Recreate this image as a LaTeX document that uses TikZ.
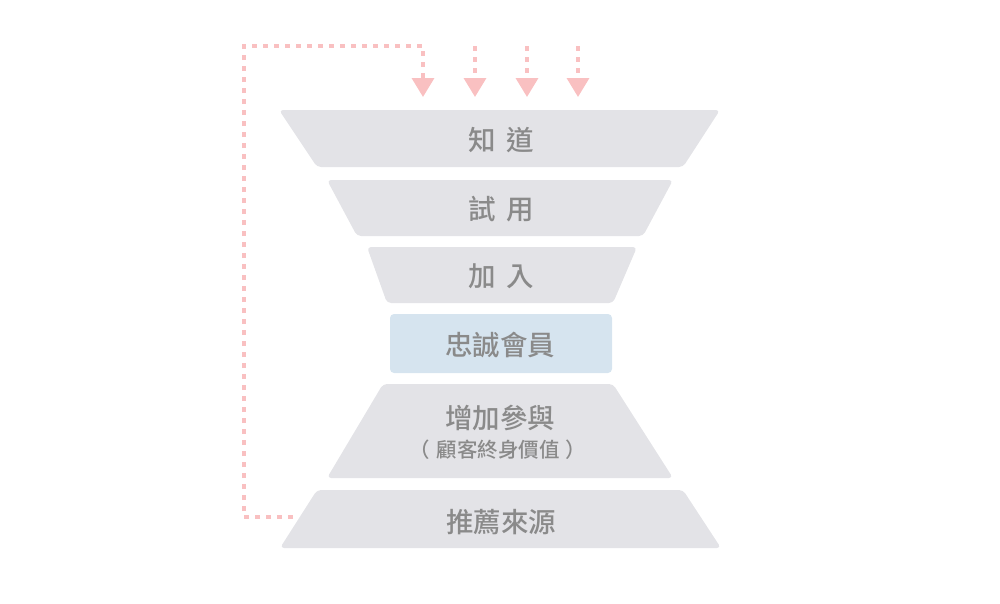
\documentclass[tikz,border=0pt]{standalone}
\usepackage{fontspec}
\newfontfamily\cjk{Noto Sans CJK TC Medium}
\usetikzlibrary{arrows.meta}
\definecolor{band}{HTML}{E3E3E7}
\definecolor{loyal}{HTML}{D6E4EF}
\definecolor{txt}{HTML}{8A8A8A}
\definecolor{pinkline}{HTML}{F9C0C1}
\tikzset{
  bandshape/.style={fill=band, rounded corners=4pt},
  label/.style={text=txt, font=\cjk\fontsize{27.5}{30}\selectfont, inner sep=0pt},
  sublabel/.style={text=txt, font=\cjk\fontsize{20.5}{23}\selectfont, inner sep=0pt},
  flow/.style={draw=pinkline, line width=3.5pt, dash pattern=on 5pt off 6pt},
  tipline/.style={flow, -{Triangle[width=22pt,length=19pt,fill=pinkline]}, shorten >=-19pt}
}
\begin{document}
\begin{tikzpicture}[x=1pt,y=-1pt]
\useasboundingbox (0,0) rectangle (1000,603);
% bands
\fill[bandshape] (279,110) -- (720,110) -- (683,167) -- (317,167) -- cycle;
\fill[bandshape] (327,180) -- (673,180) -- (643,236) -- (357,236) -- cycle;
\fill[bandshape] (367,247) -- (637,247) -- (613,303) -- (387,303) -- cycle;
\fill[loyal, rounded corners=4pt] (390,314) rectangle (612,373);
\fill[bandshape] (383,384) -- (613,384) -- (673,478) -- (327,478) -- cycle;
\fill[bandshape] (317,490) -- (683,490) -- (721,548) -- (280,548) -- cycle;
% labels
\node[label] (n1) at (501,140) {知\hspace{0.4em}道};
\node[label] (n2) at (501,209) {試\hspace{0.4em}用};
\node[label] (n3) at (501,276) {加\hspace{0.4em}入};
\node[label] (n4) at (500,345) {忠誠會員};
\node[label] (n5) at (500,418) {增加參與};
\node[sublabel] (n5b) at (498,450) {（\hspace{0.3em}顧客終身價值\hspace{0.3em}）};
\node[label] (n6) at (501,522) {推薦來源};
% coordinates
\coordinate (s) at (293,517);
\coordinate (c1) at (244,517);
\coordinate (c2) at (244,46);
\coordinate (c3) at (423,46);
\coordinate (a1) at (423,78);
\coordinate (t2) at (475,46);
\coordinate (a2) at (475,78);
\coordinate (t3) at (527,46);
\coordinate (a3) at (527,78);
\coordinate (t4) at (578,46);
\coordinate (a4) at (578,78);
\draw[tipline] (s) -- (c1) -- (c2) -- (c3) -- (a1);
\draw[tipline] (t2) -- (a2);
\draw[tipline] (t3) -- (a3);
\draw[tipline] (t4) -- (a4);
\end{tikzpicture}
\end{document}
